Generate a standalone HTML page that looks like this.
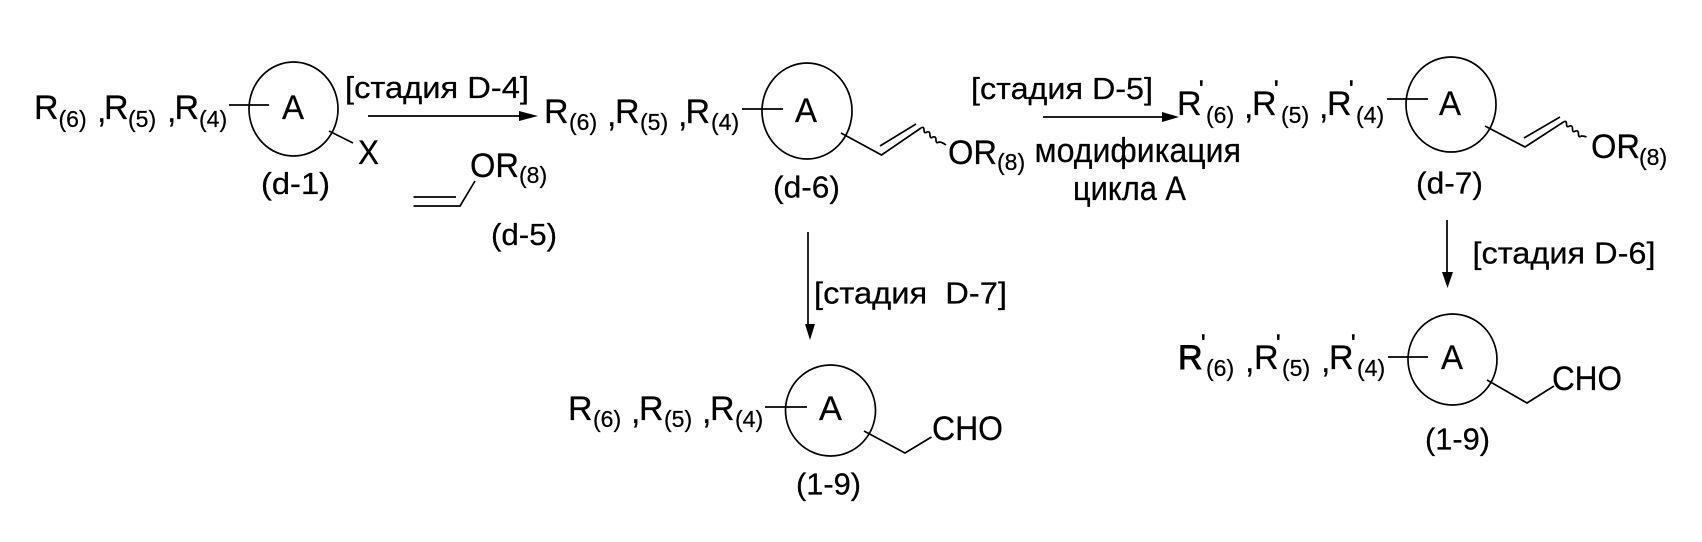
<!DOCTYPE html>
<html lang="ru"><head><meta charset="utf-8"><title>Схема</title>
<style>
html,body{margin:0;padding:0;background:#fff}
svg{display:block}
text{font-family:"Liberation Sans",sans-serif;font-size:34px;fill:#000;stroke:#000;stroke-width:.25}
.s{font-size:23px}
.m{font-size:31px}
.p{font-size:24px;stroke-width:.6}
.l{fill:none;stroke:#000;stroke-width:1.7}
</style></head><body>
<svg width="1702" height="542" viewBox="0 0 1702 542" xmlns="http://www.w3.org/2000/svg">
<rect width="1702" height="542" fill="#fff"/>

<!-- d-1 -->
<text x="34" y="119">R</text><text class="s" x="58.5" y="127">(6)</text><text x="97" y="122">,</text>
<text x="104" y="119">R</text><text class="s" x="128" y="127">(5)</text><text x="167" y="122">,</text>
<text x="174.5" y="119">R</text><text class="s" x="199" y="127">(4)</text>
<path class="l" d="M229 105H269"/>
<ellipse class="l" cx="293.5" cy="109" rx="44.5" ry="47"/>
<text x="282" y="119" textLength="22" lengthAdjust="spacingAndGlyphs">A</text>
<path class="l" d="M329 131L353 143"/>
<text x="358" y="164" textLength="21" lengthAdjust="spacingAndGlyphs">X</text>
<text class="m" x="261" y="194" textLength="69" lengthAdjust="spacingAndGlyphs">(d-1)</text>
<text class="m" x="345" y="98" textLength="184" lengthAdjust="spacingAndGlyphs">[стадия D-4]</text>
<path class="l" d="M368 116H525"/><path d="M519 111L538 116L519 121Z"/>
<path class="l" d="M413.5 197H456M413.5 206H460L475 181"/>
<text x="470" y="177" textLength="49" lengthAdjust="spacingAndGlyphs">OR</text><text class="s" x="519" y="183">(8)</text>
<text class="m" x="491" y="245" textLength="66" lengthAdjust="spacingAndGlyphs">(d-5)</text>

<!-- d-6 -->
<text x="544" y="123">R</text><text class="s" x="569" y="130">(6)</text><text x="607" y="126">,</text>
<text x="615" y="123">R</text><text class="s" x="640" y="130">(5)</text><text x="678" y="126">,</text>
<text x="685.5" y="123">R</text><text class="s" x="711" y="130">(4)</text>
<path class="l" d="M742 109H783"/>
<ellipse class="l" cx="807" cy="111" rx="45" ry="48"/>
<text x="795" y="122" textLength="22" lengthAdjust="spacingAndGlyphs">A</text>
<path class="l" d="M841 133L881.5 155L921 128M880 146L916 124"/>
<path class="l" d="M921 128q3-2 3 2t3 2q3-1 3 3t3 2q3-1 3 3t3 2q3 0 7 3"/>
<text x="948" y="164" textLength="49" lengthAdjust="spacingAndGlyphs">OR</text><text class="s" x="997" y="170">(8)</text>
<text class="m" x="773" y="197.5" textLength="67" lengthAdjust="spacingAndGlyphs">(d-6)</text>

<!-- D-5 -->
<text class="m" x="971" y="99" textLength="182" lengthAdjust="spacingAndGlyphs">[стадия D-5]</text>
<path class="l" d="M1043 117H1166"/><path d="M1162 112L1179 117L1162 122Z"/>
<text x="1034.5" y="162" textLength="206.5" lengthAdjust="spacingAndGlyphs">модификация</text>
<text x="1073" y="200" textLength="113" lengthAdjust="spacingAndGlyphs">цикла А</text>

<!-- d-7 -->
<text x="1177" y="115">R</text><text class="p" x="1199" y="97">'</text><text class="s" x="1206" y="123">(6)</text><text x="1244" y="118">,</text>
<text x="1252" y="115">R</text><text class="p" x="1274" y="97">'</text><text class="s" x="1281" y="123">(5)</text><text x="1319" y="118">,</text>
<text x="1327" y="115">R</text><text class="p" x="1349" y="97">'</text><text class="s" x="1356" y="123">(4)</text>
<path class="l" d="M1387 99H1428"/>
<ellipse class="l" cx="1451" cy="104.5" rx="45" ry="47.5"/>
<text x="1439" y="115" textLength="22" lengthAdjust="spacingAndGlyphs">A</text>
<path class="l" d="M1485 126L1525 147L1563.5 122M1524 138L1560 117"/>
<path class="l" d="M1563.5 122q3-2 3 2t3 2q3-1 3 3t3 2q3-1 3 3t3 2q3 0 5 1"/>
<text x="1591" y="158" textLength="49" lengthAdjust="spacingAndGlyphs">OR</text><text class="s" x="1639" y="165">(8)</text>
<text class="m" x="1416" y="193.5" textLength="67" lengthAdjust="spacingAndGlyphs">(d-7)</text>

<!-- D-6 arrow -->
<path class="l" d="M1447 220V276"/><path d="M1442 272L1447.5 288L1453 272Z"/>
<text class="m" x="1472.5" y="263.5" textLength="183" lengthAdjust="spacingAndGlyphs">[стадия D-6]</text>

<!-- right 1-9 -->
<text x="1178" y="369" style="stroke-width:.9">R</text><text class="p" x="1201" y="351">'</text><text class="s" x="1206" y="376">(6)</text><text x="1245" y="372">,</text>
<text x="1254" y="369">R</text><text class="p" x="1276" y="351">'</text><text class="s" x="1282" y="376">(5)</text><text x="1321" y="372">,</text>
<text x="1329" y="369">R</text><text class="p" x="1351" y="351">'</text><text class="s" x="1357" y="376">(4)</text>
<path class="l" d="M1388 357H1428"/>
<ellipse class="l" cx="1452.5" cy="359.5" rx="44.5" ry="45.5"/>
<text x="1441" y="369" textLength="22" lengthAdjust="spacingAndGlyphs">A</text>
<path class="l" d="M1487 380L1527 403L1554 386"/>
<text x="1552" y="390" textLength="70" lengthAdjust="spacingAndGlyphs">CHO</text>
<text class="m" x="1425" y="449.5" textLength="65" lengthAdjust="spacingAndGlyphs">(1-9)</text>

<!-- D-7 arrow -->
<path class="l" d="M808 232V330"/><path d="M805 324L810 340L815 324Z"/>
<text class="m" x="814" y="303.5" xml:space="preserve" textLength="193" lengthAdjust="spacingAndGlyphs">[стадия  D-7]</text>

<!-- center 1-9 -->
<text x="568" y="420">R</text><text class="s" x="593" y="427">(6)</text><text x="631" y="423">,</text>
<text x="639" y="420">R</text><text class="s" x="664" y="427">(5)</text><text x="702" y="423">,</text>
<text x="710" y="420">R</text><text class="s" x="735" y="427">(4)</text>
<path class="l" d="M765 407H807"/>
<ellipse class="l" cx="830.5" cy="410.5" rx="45" ry="45.5"/>
<text x="819" y="420" textLength="23" lengthAdjust="spacingAndGlyphs">A</text>
<path class="l" d="M864 431L905 453L931.5 437"/>
<text x="932" y="440" textLength="71" lengthAdjust="spacingAndGlyphs">CHO</text>
<text class="m" x="796" y="494.5" textLength="65" lengthAdjust="spacingAndGlyphs">(1-9)</text>
</svg>
</body></html>
